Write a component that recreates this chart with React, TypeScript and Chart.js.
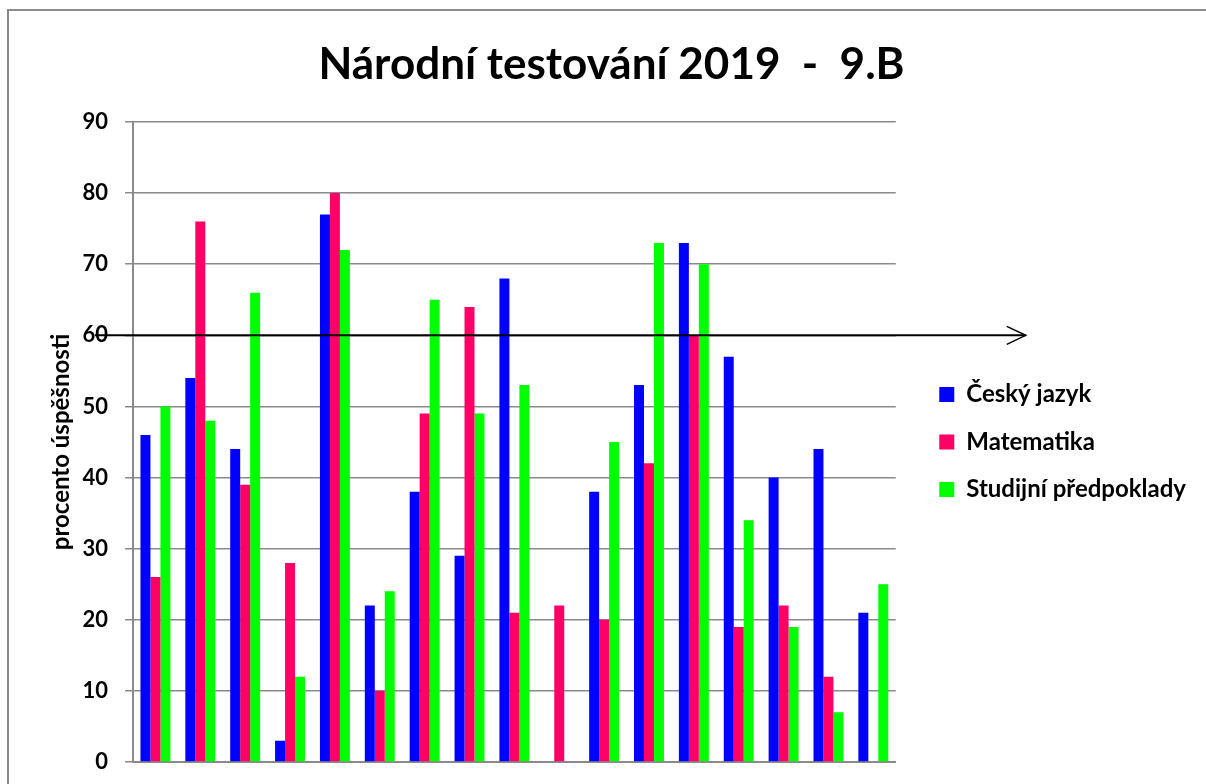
import React, { useEffect, useRef } from "react";
import { Chart, registerables } from "chart.js";

Chart.register(...registerables);

const categories = ["1", "2", "3", "4", "5", "6", "7", "8", "9", "10", "11", "12", "13", "14", "15", "16", "17"];
const ceskyJazyk = [46, 54, 44, 3, 77, 22, 38, 29, 68, null, 38, 53, 73, 57, 40, 44, 21];
const matematika = [26, 76, 39, 28, 80, 10, 49, 64, 21, 22, 20, 42, 60, 19, 22, 12, null];
const studijni = [50, 48, 66, 12, 72, 24, 65, 49, 53, null, 45, 73, 70, 34, 19, 7, 25];
const seriesNames = ["Český jazyk", "Matematika", "Studijní předpoklady"];
const arrowValue = 60;

const FONT = "Lato, 'Open Sans', sans-serif";

const framePlugin = {
  id: "frame",
  beforeDraw(chart: any) {
    const ctx = chart.ctx;
    ctx.save();
    ctx.fillStyle = "#ffffff";
    ctx.fillRect(0, 0, chart.width, chart.height);
    ctx.strokeStyle = "#8a8a8a";
    ctx.lineWidth = 2;
    ctx.beginPath();
    ctx.moveTo(8, chart.height);
    ctx.lineTo(8, 10);
    ctx.lineTo(chart.width, 10);
    ctx.stroke();
    ctx.restore();
  },
};

const legendPlacePlugin = {
  id: "legendPlace",
  afterLayout(chart: any) {
    const lg = chart.legend;
    const ca = chart.chartArea;
    if (!lg || !ca) return;
    const w = lg.width;
    lg.left = ca.right + 20;
    lg.right = lg.left + w;
    lg.top = ca.top;
    lg.bottom = ca.bottom;
  },
};

const arrowPlugin = {
  id: "arrow",
  afterDatasetsDraw(chart: any) {
    const ctx = chart.ctx;
    const y = chart.scales.y.getPixelForValue(arrowValue);
    const x0 = chart.chartArea.left - 38;
    const x1 = chart.chartArea.right + 130;
    ctx.save();
    ctx.strokeStyle = "#000";
    ctx.lineWidth = 2;
    ctx.beginPath();
    ctx.moveTo(x0, y);
    ctx.lineTo(x1, y);
    ctx.stroke();
    ctx.lineWidth = 1.5;
    ctx.beginPath();
    ctx.moveTo(x1 - 19, y - 9);
    ctx.lineTo(x1, y);
    ctx.lineTo(x1 - 19, y + 9);
    ctx.stroke();
    ctx.restore();
  },
};

export default function App() {
  const ref = useRef<HTMLCanvasElement | null>(null);
  useEffect(() => {
    if (!ref.current) return;
    const chart = new Chart(ref.current, {
      type: "bar",
      data: {
        labels: categories,
        datasets: [
          { label: seriesNames[0], data: ceskyJazyk, backgroundColor: "#0000ff" },
          { label: seriesNames[1], data: matematika, backgroundColor: "#ff0066" },
          { label: seriesNames[2], data: studijni, backgroundColor: "#00ff00" },
        ],
      },
      options: {
        responsive: false,
        animation: false,
        layout: { padding: { left: 47, right: 30, top: 0, bottom: 22 } },
        datasets: { bar: { categoryPercentage: 0.667, barPercentage: 1.0 } },
        plugins: {
          title: {
            display: true,
            text: "Národní testování 2019  -  9.B",
            color: "#000",
            font: { family: FONT, size: 44, weight: "bold" },
            padding: { top: 38.6, bottom: 30.6 },
          },
          legend: {
            position: "right",
            labels: {
              color: "#000",
              font: { family: FONT, size: 24, weight: "bold" },
              boxWidth: 15,
              boxHeight: 15,
              padding: 23.5,
            },
          },
          tooltip: { enabled: false },
        },
        scales: {
          x: {
            ticks: { display: false },
            grid: { display: false, drawTicks: false },
            border: { display: true, color: "#8a8a8a", width: 2 },
          },
          y: {
            min: 0,
            max: 90,
            afterFit(scale: any) {
              scale.width = 86;
              scale.paddingTop = 0;
              scale.paddingBottom = 0;
            },
            ticks: {
              stepSize: 10,
              color: "#000",
              padding: 17,
              font: { family: FONT, size: 22, weight: "bold" },
            },
            grid: { color: "#8a8a8a", lineWidth: 1.5, tickLength: 8 },
            border: { color: "#8a8a8a", width: 2 },
            title: {
              display: true,
              text: "procento úspěšnosti",
              color: "#000",
              font: { family: FONT, size: 24, weight: "bold" },
              padding: { top: 0, bottom: 4 },
            },
          },
        },
      },
      plugins: [framePlugin, legendPlacePlugin, arrowPlugin],
    });
    return () => chart.destroy();
  }, []);
  return (
    <div style={{ position: "absolute", left: 0, top: 0, width: 1206, height: 784 }}>
      <canvas ref={ref} width={1206} height={784} />
    </div>
  );
}
